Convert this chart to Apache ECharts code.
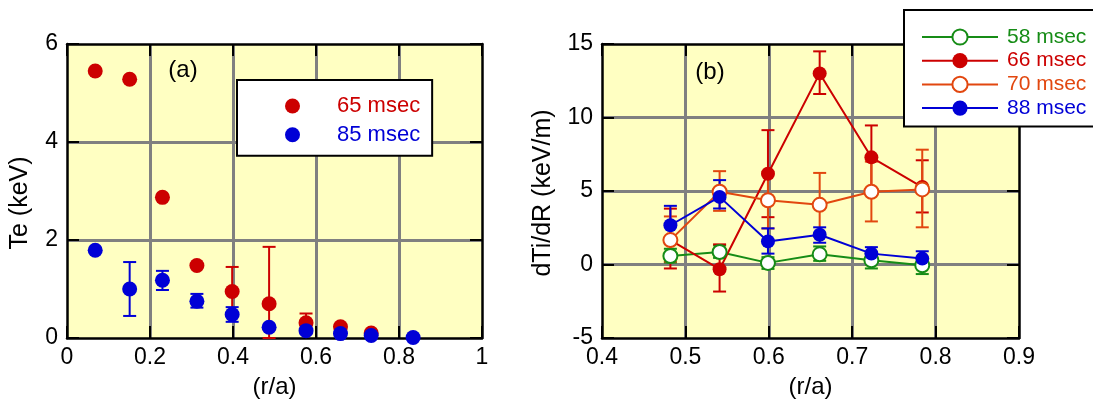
<!DOCTYPE html>
<html>
<head>
<meta charset="utf-8">
<script src="https://cdn.jsdelivr.net/npm/echarts@6/dist/echarts.min.js"></script>
<style>
  html, body { margin: 0; padding: 0; background: #fff; }
  #chart { width: 1093px; height: 404px; }
</style>
</head>
<body>
<div id="chart"></div>
<script>
// panel (a): Te profiles
var rA65 = [0.068, 0.151, 0.230, 0.313, 0.398, 0.487, 0.576, 0.659, 0.733];
var te65 = [5.45, 5.28, 2.87, 1.48, 0.95, 0.70, 0.31, 0.23, 0.10];
var te65Lo = [null, null, null, null, 0.45, 0.0, 0.15, null, null];
var te65Hi = [null, null, null, null, 1.45, 1.86, 0.50, null, null];

var rA85 = [0.068, 0.151, 0.230, 0.313, 0.398, 0.487, 0.576, 0.659, 0.733, 0.834];
var te85 = [1.79, 1.00, 1.18, 0.75, 0.48, 0.22, 0.15, 0.09, 0.05, 0.01];
var te85Lo = [null, 0.45, 0.98, 0.62, 0.33, null, null, null, null, null];
var te85Hi = [null, 1.55, 1.37, 0.90, 0.63, null, null, null, null, null];

// panel (b): dTi/dR
var rB = [0.482, 0.541, 0.599, 0.661, 0.723, 0.784];
var g58 = [0.58, 0.85, 0.11, 0.69, 0.29, -0.05];
var g58Lo = [0.13, 0.45, -0.30, 0.25, -0.27, -0.65];
var g58Hi = [1.07, 1.30, 0.50, 1.23, 0.70, 0.45];
var g66 = [1.66, -0.32, 6.17, 13.0, 7.29, 5.27];
var g66Lo = [-0.27, -1.84, 3.22, 11.6, 5.10, 3.54];
var g66Hi = [3.80, 1.37, 9.14, 14.5, 9.46, 7.09];
var g70 = [1.66, 4.95, 4.37, 4.06, 4.95, 5.11];
var g70Lo = [0.20, 3.65, 2.45, 1.90, 2.93, 2.53];
var g70Hi = [3.27, 6.35, 6.30, 6.23, 7.00, 7.81];
var g88 = [2.67, 4.60, 1.57, 2.02, 0.74, 0.40];
var g88Lo = [1.40, 3.81, 0.74, 1.48, 0.30, -0.10];
var g88Hi = [3.99, 5.74, 2.46, 2.53, 1.18, 0.90];

var xTicksA = [0, 1, 0.2];
var yTicksA = [0, 6, 2];
var xTicksB = [0.4, 0.9, 0.1];
var yTicksB = [-5, 15, 5];

var RED = '#cc0000', BLUE = '#0000d6', GREEN = '#168c16', ORANGE = '#e2470f';
var FONT = 'Liberation Sans, Arial, sans-serif';

var myChart = echarts.init(document.getElementById('chart'));

function pairs(xs, ys) {
  return xs.map(function (x, i) { return [x, ys[i]]; });
}

function errorBars(xs, lo, hi, color, idx) {
  var data = [];
  xs.forEach(function (x, i) {
    if (lo[i] != null) data.push([x, lo[i], hi[i]]);
  });
  return {
    type: 'custom',
    xAxisIndex: idx, yAxisIndex: idx,
    z: 2,
    silent: true,
    data: data,
    encode: { x: 0, y: [1, 2] },
    renderItem: function (params, api) {
      var a = api.coord([api.value(0), api.value(1)]);
      var b = api.coord([api.value(0), api.value(2)]);
      var w = 6.5;
      var st = { stroke: color, lineWidth: 2, fill: null };
      return {
        type: 'group',
        children: [
          { type: 'line', shape: { x1: a[0], y1: a[1], x2: b[0], y2: b[1] }, style: st },
          { type: 'line', shape: { x1: a[0] - w, y1: a[1], x2: a[0] + w, y2: a[1] }, style: st },
          { type: 'line', shape: { x1: b[0] - w, y1: b[1], x2: b[0] + w, y2: b[1] }, style: st }
        ]
      };
    }
  };
}

var frame = { onZero: false, lineStyle: { color: '#000', width: 2.5 } };
var ticks = { inside: true, length: 12, lineStyle: { color: '#000', width: 2 } };
var grid = { show: true, showMinLine: false, showMaxLine: false, lineStyle: { color: '#808080', width: 3 } };

function mainX(g, t) {
  return {
    gridIndex: g, type: 'value', min: t[0], max: t[1], interval: t[2], position: 'bottom', z: 1,
    axisLine: frame, axisTick: ticks, splitLine: grid,
    axisLabel: { fontSize: 23, color: '#000', fontFamily: FONT, margin: 8, showMinLabel: true, showMaxLabel: true },
    name: '(r/a)', nameLocation: 'middle', nameGap: 37,
    nameTextStyle: { fontSize: 24, color: '#000', fontFamily: FONT }
  };
}
function sideX(g, t) {
  return {
    gridIndex: g, type: 'value', min: t[0], max: t[1], interval: t[2], position: 'top', z: 1.5,
    axisLine: frame, axisTick: ticks, axisLabel: { show: false }, splitLine: { show: false }
  };
}
function mainY(g, t, name, gap, pad) {
  return {
    gridIndex: g, type: 'value', min: t[0], max: t[1], interval: t[2], position: 'left', z: 1,
    axisLine: frame, axisTick: ticks, splitLine: grid,
    axisLabel: { fontSize: 23, color: '#000', fontFamily: FONT, margin: 9, showMinLabel: true, showMaxLabel: true },
    name: name, nameLocation: 'middle', nameGap: gap,
    nameTextStyle: { fontSize: 25, color: '#000', fontFamily: FONT, padding: pad }
  };
}
function sideY(g, t) {
  return {
    gridIndex: g, type: 'value', min: t[0], max: t[1], interval: t[2], position: 'right', z: 1.5,
    axisLine: frame, axisTick: ticks, axisLabel: { show: false }, splitLine: { show: false }
  };
}

function lineSeries(name, ys, color, empty) {
  return {
    name: name, type: 'line', xAxisIndex: 1, yAxisIndex: 1, z: 3,
    data: pairs(rB, ys),
    symbol: empty ? 'emptyCircle' : 'circle', symbolSize: 14,
    lineStyle: { color: color, width: 2 },
    itemStyle: { color: color, borderWidth: empty ? 2 : 0, opacity: 1 }
  };
}

var option = {
  animation: false,
  textStyle: { fontFamily: FONT },
  grid: [
    { left: 67, top: 44, width: 415, height: 299, show: true, backgroundColor: '#ffffc2', borderWidth: 0 },
    { left: 602, top: 44, width: 417, height: 299, show: true, backgroundColor: '#ffffc2', borderWidth: 0 }
  ],
  xAxis: [mainX(0, xTicksA), mainX(1, xTicksB), sideX(0, xTicksA), sideX(1, xTicksB)],
  yAxis: [
    mainY(0, yTicksA, 'Te (keV)', 34, [0, 24, 0, 0]),
    mainY(1, yTicksB, 'dTi/dR (keV/m)', 46, [0, 4, 0, 0]),
    sideY(0, yTicksA), sideY(1, yTicksB)
  ],
  legend: [
    {
      orient: 'vertical', left: 237, top: 80,
      padding: [15, 12, 10, 48],
      backgroundColor: '#fff', borderColor: '#000', borderWidth: 2,
      itemWidth: 15, itemHeight: 15, itemGap: 6.7,
      icon: 'circle',
      textStyle: { fontSize: 22, fontFamily: FONT, padding: [0, 0, 0, 32] },
      data: [
        { name: '65 msec', textStyle: { color: RED } },
        { name: '85 msec', textStyle: { color: BLUE } }
      ]
    },
    {
      orient: 'vertical', left: 904, top: 10,
      padding: [16.5, 60, 8, 17],
      backgroundColor: '#fff', borderColor: '#000', borderWidth: 2,
      itemWidth: 76, itemHeight: 19, itemGap: 2.7,
      textStyle: { fontSize: 21, fontFamily: FONT, padding: [0, 0, 0, 4] },
      data: [
        { name: '58 msec', textStyle: { color: GREEN } },
        { name: '66 msec', textStyle: { color: RED } },
        { name: '70 msec', textStyle: { color: ORANGE } },
        { name: '88 msec', textStyle: { color: BLUE } }
      ]
    }
  ],
  graphic: [
    { type: 'text', x: 183, y: 70, style: { text: '(a)', font: '24px ' + FONT, fill: '#000', textAlign: 'center', textVerticalAlign: 'middle' }, z: 10 },
    { type: 'text', x: 710, y: 72, style: { text: '(b)', font: '24px ' + FONT, fill: '#000', textAlign: 'center', textVerticalAlign: 'middle' }, z: 10 }
  ],
  series: [
    errorBars(rA65, te65Lo, te65Hi, RED, 0),
    errorBars(rA85, te85Lo, te85Hi, BLUE, 0),
    {
      name: '65 msec', type: 'scatter', xAxisIndex: 0, yAxisIndex: 0, z: 3,
      data: pairs(rA65, te65), symbol: 'circle', symbolSize: 15, itemStyle: { color: RED, opacity: 1 }
    },
    {
      name: '85 msec', type: 'scatter', xAxisIndex: 0, yAxisIndex: 0, z: 3,
      data: pairs(rA85, te85), symbol: 'circle', symbolSize: 15, itemStyle: { color: BLUE, opacity: 1 }
    },
    errorBars(rB, g58Lo, g58Hi, GREEN, 1),
    errorBars(rB, g66Lo, g66Hi, RED, 1),
    errorBars(rB, g70Lo, g70Hi, ORANGE, 1),
    errorBars(rB, g88Lo, g88Hi, BLUE, 1),
    lineSeries('58 msec', g58, GREEN, true),
    lineSeries('66 msec', g66, RED, false),
    lineSeries('70 msec', g70, ORANGE, true),
    lineSeries('88 msec', g88, BLUE, false)
  ]
};

myChart.setOption(option);
</script>
</body>
</html>
